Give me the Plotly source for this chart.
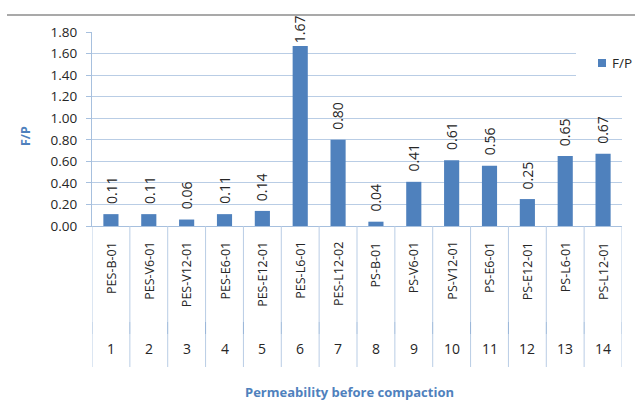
import plotly.graph_objects as go

# Sample codes (inner category level) and run numbers (outer category level)
samples = ["PES-B-01", "PES-V6-01", "PES-V12-01", "PES-E6-01", "PES-E12-01",
           "PES-L6-01", "PES-L12-02", "PS-B-01", "PS-V6-01", "PS-V12-01",
           "PS-E6-01", "PS-E12-01", "PS-L6-01", "PS-L12-01"]
run_numbers = ["1", "2", "3", "4", "5", "6", "7", "8", "9", "10", "11", "12", "13", "14"]
fp_values = [0.11, 0.11, 0.06, 0.11, 0.14, 1.67, 0.80, 0.04, 0.41, 0.61,
             0.56, 0.25, 0.65, 0.67]
y_ticks = [0.0, 0.2, 0.4, 0.6, 0.8, 1.0, 1.2, 1.4, 1.6, 1.8]
series_name = "F/P"

W, H = 635, 400
ML, MR, MT, MB = 92, 13, 32, 174
PLOT_H = H - MT - MB
PLOT_W = W - ML - MR
Y_MAX = 1.8

BAR = "#4F81BD"
GRID = "#B9CDE5"
AXIS = "#A7C0DE"
TXT = "#262626"
FONT = "Open Sans, Liberation Sans, Arial, sans-serif"


def py(pixel_y):
    """Convert a page pixel row into a paper y coordinate."""
    return (H - MB - pixel_y) / PLOT_H


def px(pixel_x):
    """Convert a page pixel column into a paper x coordinate."""
    return (pixel_x - ML) / PLOT_W


fig = go.Figure()
fig.add_trace(go.Bar(
    x=samples, y=fp_values, name=series_name,
    marker=dict(color=BAR, line=dict(width=0)),
    width=0.4,
))

annotations = []
# Value labels above each bar; kept inside the chart frame near the top
LABEL_GAP, LABEL_LEN, LABEL_TOP = 8, 27, 18
for s, v in zip(samples, fp_values):
    bar_top_px = MT + (1 - v / Y_MAX) * PLOT_H
    gap = max(0, min(LABEL_GAP, bar_top_px - LABEL_LEN - LABEL_TOP))
    annotations.append(dict(x=s, y=v, xref="x", yref="y", text=f"{v:.2f}",
                            showarrow=False, textangle=-90, yanchor="bottom",
                            yshift=gap,
                            font=dict(family=FONT, size=14, color=TXT)))
# Inner level: sample codes, rotated and hung just below the axis
for s in samples:
    annotations.append(dict(x=s, y=0, xref="x", yref="paper", text=s,
                            showarrow=False, textangle=-90, yanchor="top",
                            yshift=-14,
                            font=dict(family=FONT, size=12.5, color=TXT)))
# Outer level: run numbers
for s, n in zip(samples, run_numbers):
    annotations.append(dict(x=s, y=0, xref="x", yref="paper", text=n,
                            showarrow=False, yanchor="middle",
                            yshift=-(348 - (H - MB)),
                            font=dict(family=FONT, size=14, color=TXT)))
# Axis titles
annotations.append(dict(x=px(349), y=py(392), xref="paper", yref="paper",
                        text="<b>Permeability before compaction</b>",
                        showarrow=False, xanchor="center", yanchor="middle",
                        font=dict(family=FONT, size=13, color=BAR)))
annotations.append(dict(x=px(25), y=py(136), xref="paper", yref="paper",
                        text="<b>F/P</b>", textangle=-90,
                        showarrow=False, xanchor="center", yanchor="middle",
                        font=dict(family=FONT, size=12.5, color=BAR)))
# Legend label
annotations.append(dict(x=px(610), y=py(63), xref="paper", yref="paper",
                        text=series_name, showarrow=False,
                        xanchor="left", yanchor="middle",
                        font=dict(family=FONT, size=13.5, color=TXT)))

shapes = []
# Category separators for the two label levels
n = len(samples)
for i in range(n + 1):
    xb = i - 0.5
    shapes.append(dict(type="line", xref="x", yref="paper", x0=xb, x1=xb,
                       y0=0, y1=py(322), line=dict(color=GRID, width=1)))
    shapes.append(dict(type="line", xref="x", yref="paper", x0=xb, x1=xb,
                       y0=py(322), y1=py(334), line=dict(color="#95B3D7", width=1)))
    shapes.append(dict(type="line", xref="x", yref="paper", x0=xb, x1=xb,
                       y0=py(334), y1=py(367), line=dict(color=GRID, width=1)))
# Frame line across the top of the chart
shapes.append(dict(type="line", xref="paper", yref="paper",
                   x0=px(7), x1=px(635), y0=py(15), y1=py(15),
                   line=dict(color="#8C8C8C", width=1.5)))
# Legend box: white backing over the gridlines, plus the series swatch
shapes.append(dict(type="rect", xref="paper", yref="paper", layer="above",
                   x0=px(576), x1=px(635), y0=py(78), y1=py(49),
                   fillcolor="white", line=dict(width=0)))
shapes.append(dict(type="rect", xref="paper", yref="paper", layer="above",
                   x0=px(598), x1=px(606), y0=py(67), y1=py(59),
                   fillcolor=BAR, line=dict(width=0)))

fig.update_layout(
    width=W, height=H,
    margin=dict(l=ML, r=MR, t=MT, b=MB, pad=0, autoexpand=False),
    paper_bgcolor="white", plot_bgcolor="white",
    font=dict(family=FONT, size=13, color=TXT),
    showlegend=False,
    annotations=annotations, shapes=shapes,
    bargap=0.6,
)
fig.update_xaxes(type="category", range=[-0.5, n - 0.5], showticklabels=False,
                 showgrid=False, zeroline=False, showline=True,
                 linecolor=AXIS, linewidth=1, ticks="")
fig.update_yaxes(range=[0, Y_MAX], tickvals=y_ticks, tickformat=".2f",
                 showgrid=True, gridcolor=GRID, gridwidth=1, zeroline=False,
                 showline=True, linecolor=AXIS, linewidth=1,
                 ticks="outside", ticklen=5, tickcolor=AXIS,
                 ticklabelstandoff=6,
                 tickfont=dict(family=FONT, size=13.5, color=TXT))

fig.write_html("out.html")
